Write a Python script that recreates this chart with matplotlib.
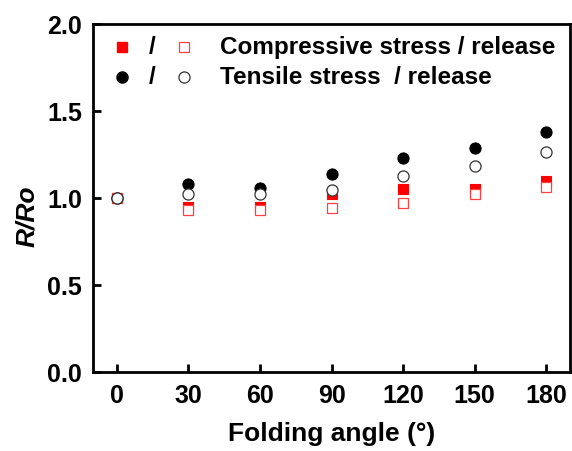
import matplotlib
matplotlib.use("Agg")
from matplotlib import pyplot as plt

angles = [0, 30, 60, 90, 120, 150, 180]
compress_stress = [1.00, 0.95, 0.95, 1.02, 1.05, 1.05, 1.10]
compress_release = [1.00, 0.93, 0.93, 0.945, 0.97, 1.02, 1.065]
tensile_stress = [1.00, 1.08, 1.055, 1.14, 1.23, 1.29, 1.378]
tensile_release = [1.00, 1.02, 1.02, 1.048, 1.128, 1.184, 1.262]

x_ticks = [0, 30, 60, 90, 120, 150, 180]
y_ticks = [0.0, 0.5, 1.0, 1.5, 2.0]

plt.rcParams['font.family'] = ['Liberation Sans', 'DejaVu Sans']
plt.rcParams['font.weight'] = 'bold'

fig = plt.figure(figsize=(5.72, 4.52), dpi=100)
ax = fig.add_axes([0.1626, 0.1748, 0.834, 0.770])

red = '#ff0000'
ax.plot(angles, compress_stress, 's', ms=7, mfc=red, mec=red, mew=0.8, ls='none')
ax.plot(angles, compress_release, 's', ms=7, mfc='white', mec='#ff4040', mew=0.9, ls='none')
ax.plot(angles, tensile_stress, 'o', ms=8, mfc='black', mec='black', mew=0.8, ls='none')
ax.plot(angles, tensile_release, 'o', ms=8, mfc='white', mec='#333333', mew=0.9, ls='none')

ax.set_xlim(-10, 190)
ax.set_ylim(0, 2.0)
ax.set_xticks(x_ticks)
ax.set_yticks(y_ticks)
ax.set_yticklabels(['%.1f' % v for v in y_ticks])
ax.tick_params(direction='in', length=6, width=2, labelsize=18, pad=8)
for s in ax.spines.values():
    s.set_linewidth(2)

ax.set_xlabel('Folding angle (°)', fontsize=19, fontweight='bold', labelpad=10)
ax.set_ylabel('R/Ro', fontsize=19, fontweight='bold', style='italic')
ax.yaxis.set_label_coords(-0.113, 0.45)

# legend drawn by hand: two markers separated by a slash, then the label
rows = [
    (0.934, ('s', 7, red, red), ('s', 7, 'white', '#ff4040'), 'Compressive stress / release'),
    (0.848, ('o', 8, 'black', 'black'), ('o', 8, 'white', '#333333'), 'Tensile stress  / release'),
]
for y, m1, m2, label in rows:
    ax.plot(0.061, y, m1[0], ms=m1[1], mfc=m1[2], mec=m1[3], transform=ax.transAxes)
    ax.text(0.124, y, '/', transform=ax.transAxes, ha='center', va='center',
            fontsize=17.5, fontweight='bold')
    ax.plot(0.191, y, m2[0], ms=m2[1], mfc=m2[2], mec=m2[3], mew=0.9,
            transform=ax.transAxes)
    ax.text(0.266, y, label, transform=ax.transAxes, ha='left', va='center',
            fontsize=17.5, fontweight='bold')

fig.savefig('out.png', dpi=100)
